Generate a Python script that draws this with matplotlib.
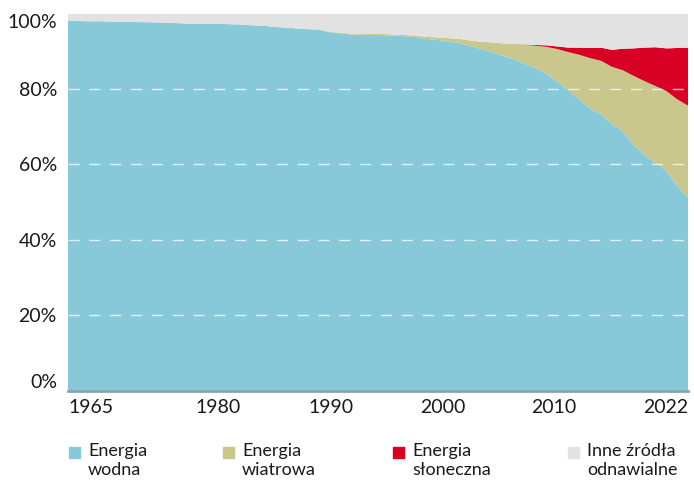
import matplotlib.pyplot as plt
from matplotlib.patches import Rectangle
import numpy as np

plt.rcParams['font.family'] = ['Lato', 'DejaVu Sans']

years = list(range(1965, 2023))

# udział w produkcji energii odnawialnej, %
hydro = [98.1, 98.05, 98.0, 98.0, 97.9, 97.85, 97.8, 97.75, 97.7, 97.6,
         97.5, 97.4, 97.35, 97.3, 97.3, 97.2, 97.1, 96.9, 96.8, 96.5,
         96.3, 96.1, 95.9, 95.8, 95.1, 94.8, 94.5, 94.4, 94.35, 94.3,
         94.2, 94.0, 93.8, 93.3, 93.0, 92.6, 92.2, 91.4, 90.6, 89.8,
         88.8, 87.9, 86.7, 85.6, 84.0, 82.0, 79.6, 77.3, 74.8, 73.3,
         70.7, 68.8, 65.2, 62.5, 60.5, 58.2, 54.3, 51.1]
wind = [0] * 24 + [0.1, 0.15, 0.2, 0.2, 0.25, 0.3, 0.3, 0.35, 0.4, 0.55,
                   0.7, 0.9, 1.1, 1.5, 1.9, 2.6, 3.3, 4.1, 5.0, 5.9,
                   7.2, 8.6, 10.2, 11.8, 13.4, 14.2, 15.2, 16.2, 18.3, 19.6,
                   20.3, 21.3, 23.0, 24.5]
solar = [0] * 42 + [0.1, 0.2, 0.4, 0.7, 1.2, 1.9, 2.7, 3.5, 4.5, 5.7,
                    7.3, 8.9, 10.3, 11.3, 13.6, 15.4]
other = [1.9, 1.95, 2.0, 2.0, 2.1, 2.15, 2.2, 2.25, 2.3, 2.4,
         2.5, 2.6, 2.65, 2.7, 2.7, 2.8, 2.9, 3.1, 3.2, 3.5,
         3.7, 3.9, 4.1, 4.2, 4.8, 5.05, 5.3, 5.4, 5.4, 5.4,
         5.5, 5.65, 5.8, 6.15, 6.3, 6.5, 6.7, 7.1, 7.5, 7.6,
         7.9, 8.0, 8.2, 8.3, 8.4, 8.7, 9.0, 9.0, 9.1, 9.0,
         9.6, 9.3, 9.2, 9.0, 8.9, 9.2, 9.1, 9.0]

labels = ['Energia\nwodna', 'Energia\nwiatrowa', 'Energia\nsłoneczna', 'Inne źródła\nodnawialne']
colors = ['#87c9d9', '#c9c78b', '#d90026', '#e2e2e2']

xtick_pos = [1965, 1978.8, 1989.2, 1999.5, 2009.7, 2022]
xtick_labels = ['1965', '1980', '1990', '2000', '2010', '2022']

fig = plt.figure(figsize=(6.94, 4.80), dpi=100)
ax = fig.add_axes([68 / 694, 89.5 / 480, 620 / 694, 376.8 / 480])

ax.stackplot(years, hydro, wind, solar, other, colors=colors, linewidth=0)
ax.set_xlim(1965, 2022)
ax.set_ylim(0, 100)

for v in [20, 40, 60, 80]:
    ax.axhline(v, color='white', alpha=0.75, lw=1, dashes=(8, 7), zorder=3)

for s in ['top', 'left', 'right']:
    ax.spines[s].set_visible(False)
ax.spines['bottom'].set_color('#8ba5ae')
ax.spines['bottom'].set_linewidth(2)
ax.spines['bottom'].set_zorder(4)

ax.set_yticks([0, 20, 40, 60, 80, 100])
ax.set_yticklabels(['0%', '20%', '40%', '60%', '80%', '100%'])
ax.tick_params(axis='y', length=0, pad=8, labelsize=14, labelcolor='#1a1a1a')
yl = ax.get_yticklabels()
yl[0].set_va('bottom')
yl[-1].set_va('top')

ax.set_xticks(xtick_pos)
ax.set_xticklabels(xtick_labels)
ax.tick_params(axis='x', length=0, pad=6, labelsize=14, labelcolor='#1a1a1a')
xl = ax.get_xticklabels()
xl[0].set_ha('left')
xl[-1].set_ha('right')

# legenda
leg_x = [69, 223, 393, 568]
for x0, lab, c in zip(leg_x, labels, colors):
    fig.patches.append(Rectangle((x0 / 694, (480 - 458) / 480), 11 / 694, 11 / 480,
                                 transform=fig.transFigure, color=c))
    fig.text((x0 + 19) / 694, (480 - 443) / 480, lab, fontsize=13, color='#1a1a1a',
             va='top', ha='left', linespacing=1.22)

fig.savefig('out.png', dpi=100)
